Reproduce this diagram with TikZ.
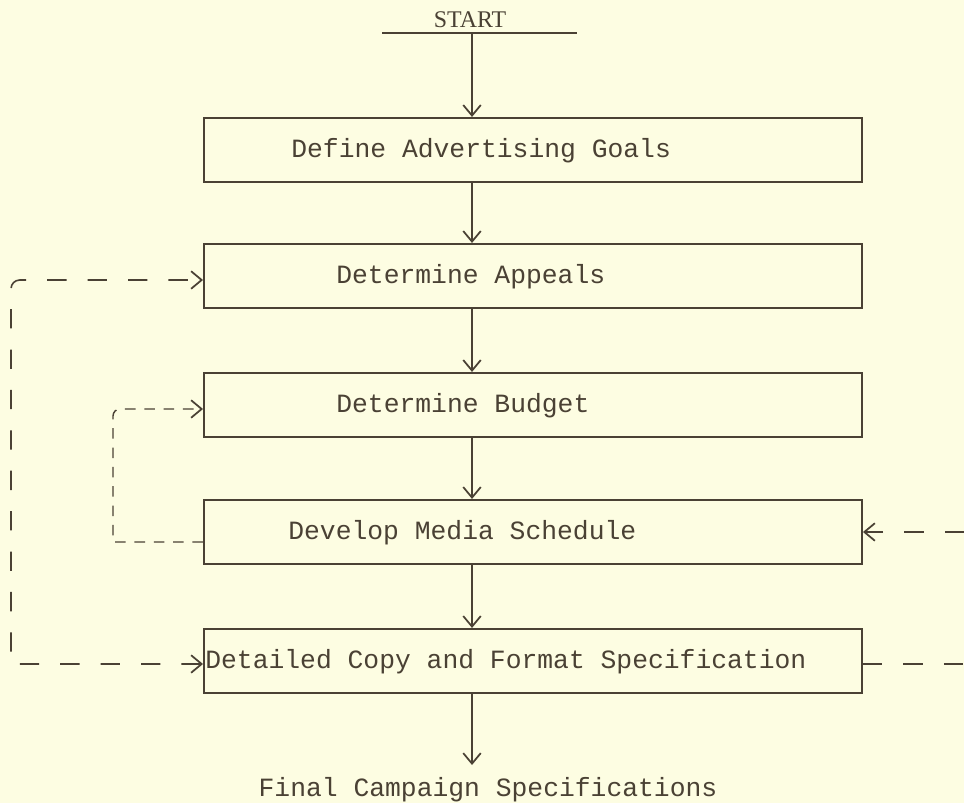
\documentclass[tikz,border=0pt]{standalone}
\usepackage{fontspec}
\setmonofont{Liberation Mono}
\newfontfamily\startfont{Liberation Serif}
\usetikzlibrary{arrows.meta}
\definecolor{paper}{HTML}{FDFDE2}
\definecolor{ink}{HTML}{4A4134}

\begin{document}
\begin{tikzpicture}[x=0.02cm,y=0.02cm,
  >={Straight Barb[length=6pt,width=10pt,line width=1pt]},
  box/.style={draw=ink,line width=1.2pt,minimum width=13.16cm,minimum height=1.28cm,inner sep=0pt},
  lbl/.style={anchor=base west,inner sep=0pt,text=ink,font=\ttfamily\fontsize{15}{18}\selectfont},
  flow/.style={draw=ink,line width=0.9pt,->},
  longdash/.style={draw=ink,line width=0.9pt,dash pattern=on 11pt off 12pt},
  shortdash/.style={draw=ink,line width=0.8pt,dash pattern=on 6pt off 5pt}]
	\fill[paper] (0,0) rectangle (964,-803);
	\useasboundingbox (0,0) rectangle (964,-803);
	
	% start line
	\node[anchor=base,inner sep=0pt,text=ink,font=\startfont\fontsize{13.6}{16}\selectfont] (start) at (470,-28) {START};
	\coordinate (lineL) at (382,-33);
	\coordinate (lineR) at (577,-33);
	\coordinate (top) at (472,-33);
	\draw[ink,line width=1pt] (lineL) -- (lineR);
	
	% boxes
	\node[box] (goals) at (533,-150) {};
	\node[box] (appeals) at (533,-276) {};
	\node[box] (budget) at (533,-405) {};
	\node[box] (media) at (533,-532) {};
	\node[box] (copy) at (533,-661) {};
	
	\node[lbl] (goalstext) at (291,-158) {Define Advertising Goals};
	\node[lbl] (appealstext) at (336,-284) {Determine Appeals};
	\node[lbl] (budgettext) at (336,-413) {Determine Budget};
	\node[lbl] (mediatext) at (288,-540) {Develop Media Schedule};
	\node[lbl] (copytext) at (205,-669) {Detailed Copy and Format Specification};
	
	\node[lbl,anchor=base] (final) at (488,-796) {Final Campaign Specifications};
	\coordinate (finalend) at (472,-765);
	
	% main flow
	\draw[flow] (top) -- (top |- goals.north);
	\draw[flow] (top |- goals.south) -- (top |- appeals.north);
	\draw[flow] (top |- appeals.south) -- (top |- budget.north);
	\draw[flow] (top |- budget.south) -- (top |- media.north);
	\draw[flow] (top |- media.south) -- (top |- copy.north);
	\draw[flow] (top |- copy.south) -- (finalend);
	
	% feedback loops
	\coordinate (outerx) at (11,0);
	\coordinate (innerx) at (113,0);
	\coordinate (rightx) at (964,0);
	\draw[longdash,<->] ([yshift=-0.06cm]copy.west) -- ([yshift=-0.06cm]copy.west -| outerx) [rounded corners=5pt] -- ([yshift=-0.08cm]appeals.west -| outerx) -- ([yshift=-0.08cm]appeals.west);
	\draw[shortdash,->] ([yshift=-0.2cm]media.west) -- ([yshift=-0.2cm]media.west -| innerx) [rounded corners=4pt] -- ([yshift=-0.08cm]budget.west -| innerx) -- ([yshift=-0.08cm]budget.west);
	\draw[longdash] ([yshift=-0.06cm]copy.east) -- ([yshift=-0.06cm]copy.east -| rightx);
	\draw[longdash,->] (media.east -| rightx) -- (media.east);
\end{tikzpicture}
\end{document}
